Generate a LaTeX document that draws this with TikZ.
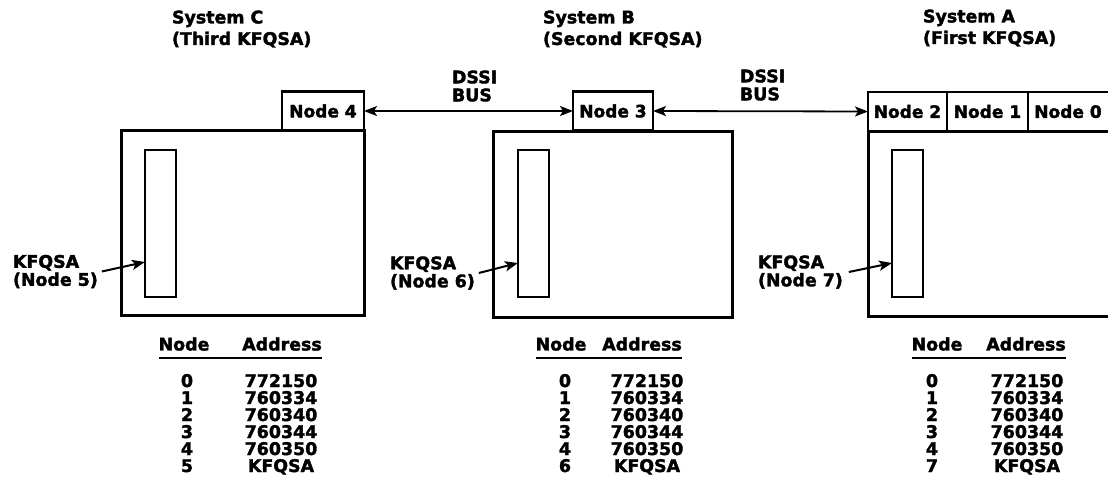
\documentclass[tikz,border=0pt]{standalone}
\usepackage{fontspec}
\setmainfont{DejaVu Sans}[BoldFeatures={FakeBold=2}]
\usetikzlibrary{arrows.meta}
\tikzset{
  every node/.style={inner sep=0pt, outer sep=0pt},
  txt/.style={font=\bfseries\fontsize{17.4}{18}\selectfont, align=left},
  ttl/.style={font=\bfseries\fontsize{17.4}{21.5}\selectfont, align=left, anchor=west},
  cabinet/.style={draw, line width=3pt},
  portbox/.style={draw, line width=2.5pt, minimum height=39pt, font=\bfseries\fontsize{17}{18}\selectfont},
  card/.style={draw, line width=2.5pt, minimum width=31pt, minimum height=147pt},
  bus/.style={line width=1.8pt, {Stealth[length=13pt,width=10pt,inset=3pt]}-{Stealth[length=13pt,width=10pt,inset=3pt]}},
  ptr/.style={line width=2pt, -{Stealth[length=13pt,width=10pt,inset=3pt]}},
  uline/.style={line width=2pt},
}
\newcommand\addrtable[7]{%
  \node[txt] (#1hn) at (#2,344) {Node};
  \node[txt] (#1ha) at (#3,344) {Address};
  \draw[uline] ([yshift=-14pt]#1hn.west) -- ([yshift=-14pt]#1ha.east);
  \foreach \n/\a [count=\i from 0] in {0/772150,1/760334,2/760340,3/760344,4/760350,#6/KFQSA}{
    \node[txt, anchor=base] (#1n\i) at (#4,{387+17*\i}) {\n};
    \node[txt, anchor=base] (#1a\i) at (#5,{387+17*\i}) {\a};
  }
}
\begin{document}
\begin{tikzpicture}[x=1pt,y=-1pt]
\fill[white] (0,0) rectangle (1108,495);
\useasboundingbox (0,0) rectangle (1108,495);

% titles
\node[ttl] (tC) at (172,29) {System C\\(Third KFQSA)};
\node[ttl] (tB) at (543,29) {System B\\(Second KFQSA)};
\node[ttl] (tA) at (923,28) {System A\\(First KFQSA)};

% bus labels
\node[txt, anchor=west] (bus1) at (452,86) {DSSI\\BUS};
\node[txt, anchor=west] (bus2) at (740,85) {DSSI\\BUS};

% System C
\node[cabinet, minimum width=243pt, minimum height=185pt] (cabC) at (242.5,222.5) {};
\node[portbox, minimum width=82pt] (n4) at (323,111) {Node 4};
\node[card] (iC) at (160.5,223.5) {};

% System B
\node[cabinet, minimum width=239pt, minimum height=186pt] (cabB) at (612.5,224) {};
\node[portbox, minimum width=80pt] (n3) at (613,111) {Node 3};
\node[card] (iB) at (533.5,223.5) {};

% System A (cut off at right edge)
\draw[line width=3pt] (1108,131) -- (868,131) -- (868,316) -- (1108,316);
\node[portbox, minimum width=79pt] (n2) at (907.5,111.5) {Node 2};
\node[portbox, minimum width=81pt] (n1) at (987.5,111.5) {Node 1};
\node[txt, font=\bfseries\fontsize{17}{18}\selectfont] (n0) at (1068,111.5) {Node 0};
\draw[line width=2.5pt] (n1.north east) -- (1108,92);
\node[card] (iA) at (907.5,223.5) {};

% DSSI bus connectors
\draw[bus] (n4.east) -- (n3.west);
\draw[bus] (n3.east) -- (n2.west);

% KFQSA labels
\node[txt, anchor=west] (lC) at (13,271.5) {KFQSA\\(Node 5)};
\node[txt, anchor=west] (lB) at (390,273) {KFQSA\\(Node 6)};
\node[txt, anchor=west] (lA) at (758,272) {KFQSA\\(Node 7)};
\draw[ptr] ([xshift=4pt]lC.east) -- ([yshift=-38.5pt]iC.west);
\draw[ptr] ([xshift=4pt]lB.east) -- ([yshift=-39.5pt]iB.west);
\draw[ptr] ([xshift=6pt]lA.east) -- ([yshift=-39.5pt]iA.west);

% address tables
\addrtable{c}{184}{282}{187}{281}{5}{}
\addrtable{b}{561}{642}{565}{647}{6}{}
\addrtable{a}{937}{1026}{932}{1027}{7}{}
\end{tikzpicture}
\end{document}
